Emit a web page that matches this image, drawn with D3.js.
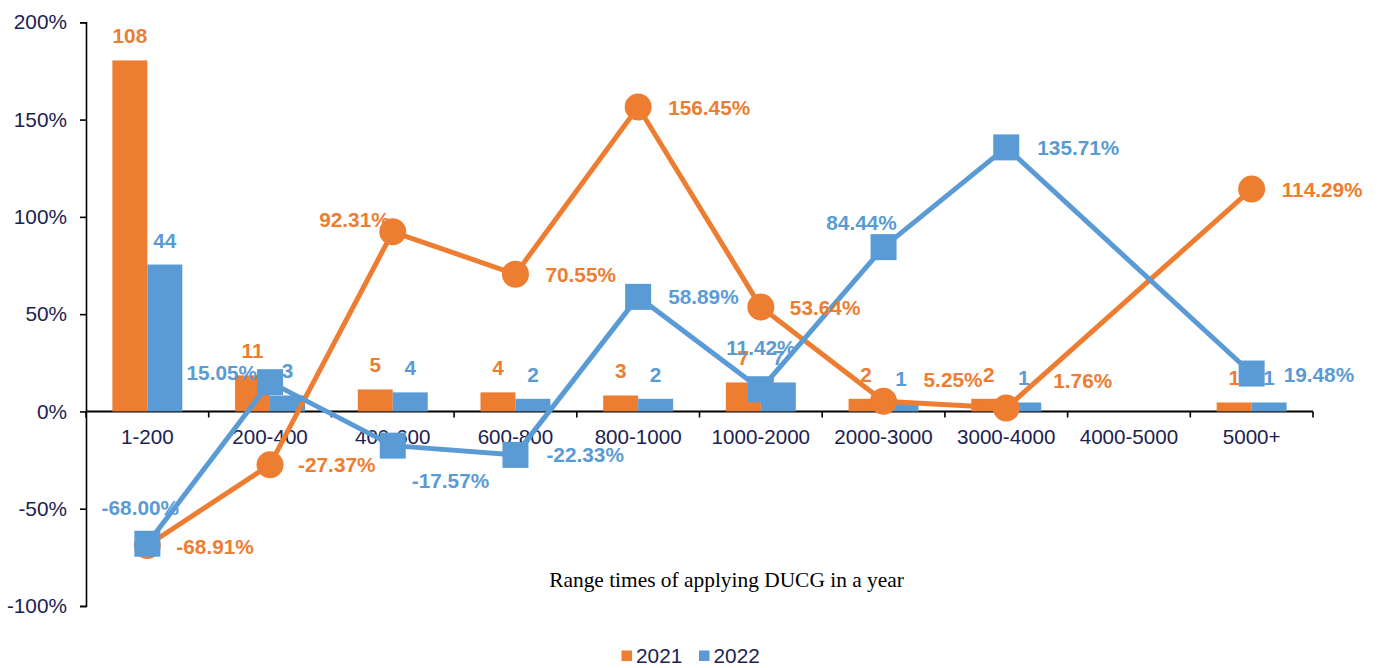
<!DOCTYPE html>
<html>
<head>
<meta charset="utf-8">
<script src="https://cdn.jsdelivr.net/npm/d3@7/dist/d3.min.js"></script>
<style>
  html, body { margin: 0; padding: 0; background: #fff; }
  svg { display: block; }
  text { font-family: "Liberation Sans", Arial, sans-serif; }
</style>
</head>
<body>
<svg id="chart" width="1383" height="668"></svg>
<script>
// ---------------- data ----------------
const categories = ["1-200","200-400","400-600","600-800","800-1000","1000-2000","2000-3000","3000-4000","4000-5000","5000+"];
const seriesNames = ["2021","2022"];
// counts shown as bar labels
const count2021 = [108, 11, 5, 4, 3, 7, 2, 2, null, 1];
const count2022 = [44, 3, 4, 2, 2, 7, 1, 1, null, 1];
// bar heights as read on the percentage axis
const barHeight2021 = [180.4, 18.5, 11.3, 9.8, 8.2, 14.9, 6.5, 6.5, null, 4.6];
const barHeight2022 = [75.5, 8.2, 9.8, 6.5, 6.5, 14.9, 4.3, 4.6, null, 4.6];
// growth rates (%) drawn as lines
const growth2021 = [-68.91, -27.37, 92.31, 70.55, 156.45, 53.64, 5.25, 1.76, null, 114.29];
const growth2022 = [-68.00, 15.05, -17.57, -22.33, 58.89, 11.42, 84.44, 135.71, null, 19.48];
const yTicks = [-100, -50, 0, 50, 100, 150, 200];
const xTitle = "Range times of applying DUCG in a year";

// ---------------- presentation ----------------
const colors = { "2021": "#ED7D31", "2022": "#5B9BD5" };
const textColor = "#1c2251";
// label placement [anchor, dx, dy] per point (presentation only)
const place2021 = [["start",29,8],["start",28,7],["end",-3,-5],["start",30,8],["start",30,8],["start",29,8],["start",40,-14],["start",47,-20],null,["start",30,8]];
const place2022 = [["middle",-7,-29],["end",-13,-2],["start",19,42],["start",31,7],["start",30,7],["middle",0,-34],["middle",-22,-17],["start",31,8],null,["start",32,8.5]];

const svg = d3.select("#chart");
const plot = { left: 86, right: 1313, top: 22.3, bottom: 606 };

const x = d3.scaleBand().domain(categories).range([plot.left, plot.right]).paddingInner(0.43).paddingOuter(0.215);
const xSub = d3.scaleBand().domain(seriesNames).range([0, x.bandwidth()]);
const xc = c => x(c) + x.bandwidth() / 2;
const y = d3.scaleLinear().domain([-100, 200]).range([plot.bottom, plot.top]);

// ---------------- y axis ----------------
const yAxis = d3.axisLeft(y).tickValues(yTicks).tickSize(6).tickPadding(13).tickFormat(d => d + "%");
const gy = svg.append("g").attr("transform", `translate(${plot.left},0)`).call(yAxis);
gy.select(".domain").attr("stroke", "#000").attr("stroke-width", 1.6);
gy.selectAll(".tick line").attr("stroke", "#000").attr("stroke-width", 1.6);
gy.selectAll(".tick text").attr("fill", textColor).style("font-size", "20.8px").style("font-family", '"Liberation Sans", Arial, sans-serif');

// ---------------- x axis at zero ----------------
const step = x.step();
const xAxisG = svg.append("g").attr("transform", `translate(0,${y(0)})`);
xAxisG.append("line").attr("x1", plot.left).attr("x2", plot.right).attr("stroke", "#000").attr("stroke-width", 2);
const boundaries = d3.range(categories.length + 1).map(i => plot.left + i * step);
xAxisG.selectAll("line.tk").data(boundaries).join("line").attr("class","tk")
  .attr("x1", d => d).attr("x2", d => d).attr("y1", 0).attr("y2", 6)
  .attr("stroke", "#000").attr("stroke-width", 1.6);
xAxisG.selectAll("text.cat").data(categories).join("text").attr("class","cat")
  .attr("x", d => xc(d)).attr("y", 33).attr("text-anchor", "middle")
  .attr("fill", textColor).style("font-size", "20.6px").text(d => d);

// ---------------- bars ----------------
const barSeries = [
  { name: "2021", heights: barHeight2021, counts: count2021 },
  { name: "2022", heights: barHeight2022, counts: count2022 }
];
const barsG = svg.append("g");
barSeries.forEach(s => {
  const pts = categories.map((c, i) => ({ c, h: s.heights[i], n: s.counts[i] })).filter(d => d.h != null);
  barsG.selectAll(null).data(pts).join("rect")
    .attr("x", d => x(d.c) + xSub(s.name))
    .attr("width", xSub.bandwidth())
    .attr("y", d => y(d.h))
    .attr("height", d => y(0) - y(d.h))
    .attr("fill", colors[s.name]);
});

// ---------------- lines ----------------
const lineSeries = [
  { name: "2021", vals: growth2021, place: place2021, marker: "circle" },
  { name: "2022", vals: growth2022, place: place2022, marker: "square" }
];
const line = d3.line().x(d => xc(d.c)).y(d => y(d.v));
const linesG = svg.append("g");
lineSeries.forEach(s => {
  const pts = categories.map((c, i) => ({ c, v: s.vals[i], i })).filter(d => d.v != null);
  linesG.append("path").datum(pts).attr("d", line)
    .attr("fill", "none").attr("stroke", colors[s.name]).attr("stroke-width", 5).attr("stroke-linejoin", "round");
  if (s.marker === "circle") {
    linesG.selectAll(null).data(pts).join("circle")
      .attr("cx", d => xc(d.c)).attr("cy", d => y(d.v)).attr("r", 13.5).attr("fill", colors[s.name]);
  } else {
    const sz = 26;
    linesG.selectAll(null).data(pts).join("rect")
      .attr("x", d => xc(d.c) - sz/2).attr("y", d => y(d.v) - sz/2).attr("width", sz).attr("height", sz)
      .attr("fill", colors[s.name]);
  }
});

// ---------------- data labels ----------------
const labelsG = svg.append("g").style("font-size", "20.8px").style("font-weight", "bold");
barSeries.forEach(s => {
  const pts = categories.map((c, i) => ({ c, h: s.heights[i], n: s.counts[i] })).filter(d => d.h != null);
  labelsG.selectAll(null).data(pts).join("text")
    .attr("x", d => x(d.c) + xSub(s.name) + xSub.bandwidth() / 2)
    .attr("y", d => y(d.h) - 17)
    .attr("text-anchor", "middle").attr("fill", colors[s.name])
    .text(d => d.n);
});
lineSeries.forEach(s => {
  const pts = categories.map((c, i) => ({ c, v: s.vals[i], i })).filter(d => d.v != null);
  labelsG.selectAll(null).data(pts).join("text")
    .attr("x", d => xc(d.c) + s.place[d.i][1])
    .attr("y", d => y(d.v) + s.place[d.i][2])
    .attr("text-anchor", d => s.place[d.i][0])
    .attr("fill", colors[s.name])
    .text(d => d.v.toFixed(2) + "%");
});

// ---------------- axis title ----------------
svg.append("text").attr("x", 726.5).attr("y", 587).attr("text-anchor", "middle")
  .style("font-family", '"Liberation Serif", "Times New Roman", serif').style("font-size", "21.4px")
  .attr("fill", "#000").text(xTitle);

// ---------------- legend ----------------
const legend = svg.append("g");
const legendX = [621.5, 699];
seriesNames.forEach((n, i) => {
  legend.append("rect").attr("x", legendX[i]).attr("y", 650.5).attr("width", 10.5).attr("height", 10.5).attr("fill", colors[n]);
  legend.append("text").attr("x", legendX[i] + 14.5).attr("y", 662.5).attr("fill", textColor).style("font-size", "20.8px").text(n);
});
</script>
</body>
</html>
